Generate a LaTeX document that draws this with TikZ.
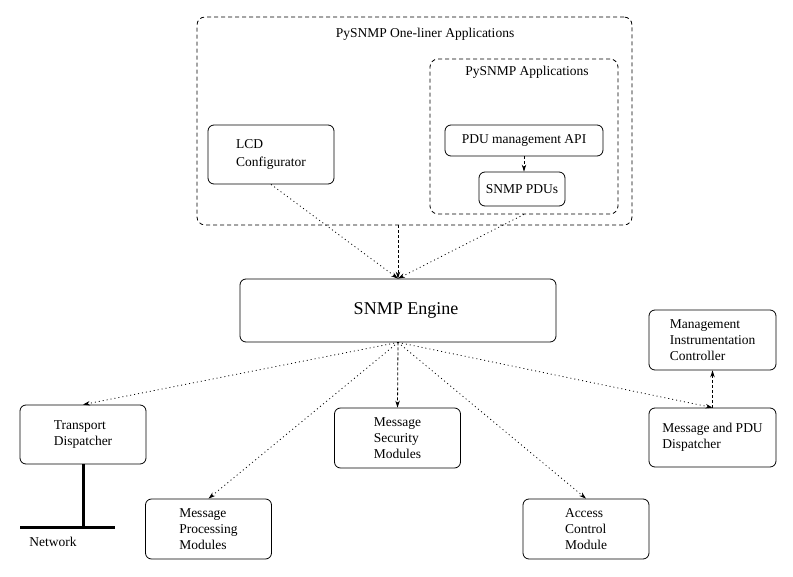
\documentclass[tikz,border=0pt]{standalone}
\usepackage{fontspec}
\setmainfont{Liberation Serif}
\usetikzlibrary{arrows.meta}
\begin{document}
\begin{tikzpicture}[x=1pt,y=-1pt,
    box/.style={draw,rounded corners=6pt,line width=0.8pt,inner sep=0pt,align=left,
        font=\fontsize{13.5}{16}\selectfont},
    frame/.style={draw,rounded corners=8pt,line width=0.8pt,dash pattern=on 4pt off 3pt},
    txt/.style={font=\fontsize{13.5}{16}\selectfont,inner sep=0pt},
    dotarrow/.style={-{Stealth[length=7pt,width=4.5pt]},line width=0.8pt,dash pattern=on 1pt off 3pt},
    dasharrow/.style={-{Stealth[length=7pt,width=4.5pt]},line width=0.8pt,dash pattern=on 3pt off 2pt}]
    \useasboundingbox(0,0)rectangle(793,577);
    % applications
    \node[frame,minimum width=435pt,minimum height=208pt](1)at(414.5,121){};
    \node[txt](2)at(425,34){PySNMP One-liner Applications};
    \node[frame,minimum width=188pt,minimum height=155pt](3)at(524,136.5){};
    \node[txt](4)at(527,72){PySNMP Applications};
    \node[box,minimum width=158pt,minimum height=31pt](5)at(524,140.5){PDU management API};
    \node[box,minimum width=86pt,minimum height=34pt](6)at(522,189){SNMP PDUs};
    \node[box,minimum width=126pt,minimum height=59pt](7)at(271,154.5){LCD\\[2pt]Configurator};
    % engine
    \node[box,minimum width=316pt,minimum height=63pt,font=\fontsize{18}{20}\selectfont](8)at(398,310.5){\hspace{16pt}SNMP Engine};
    % subsystems
    \node[box,minimum width=126pt,minimum height=59pt](9)at(83,434.5){Transport\\Dispatcher};
    \node[box,minimum width=126pt,minimum height=60pt](10)at(208.5,529){Message\\Processing\\Modules};
    \node[box,minimum width=126pt,minimum height=60pt](11)at(397.5,438){Message\\Security\\Modules};
    \node[box,minimum width=126pt,minimum height=60pt](12)at(586,529){Access\\Control\\Module};
    \node[box,minimum width=127pt,minimum height=59pt](13)at(712.5,437.5){Message and PDU\\Dispatcher};
    \node[box,minimum width=127pt,minimum height=60pt](14)at(712.5,340){Management\\Instrumentation\\Controller};
    % network
    \coordinate(15)at(20,527);
    \coordinate(16)at(115,527);
    \node[txt](17)at(53,542){Network};
    \draw[line width=3pt](9.south)--(9.south|-15);
    \draw[line width=3pt](15)--(16);
    % arrows
    \draw[dasharrow](5.south)--(5.south|-6.north);
    \draw[dotarrow](7.south)--(8.north);
    \draw[dasharrow](1.south-|8.north)--(8.north);
    \draw[dotarrow](3.south)--(8.north);
    \draw[dotarrow](8.south)--(9.north);
    \draw[dotarrow](8.south)--(10.north);
    \draw[dasharrow](8.south)--(11.north);
    \draw[dotarrow](8.south)--(12.north);
    \draw[dotarrow](8.south)--(13.north);
    \draw[dasharrow](13.north)--(14.south);
\end{tikzpicture}
\end{document}
